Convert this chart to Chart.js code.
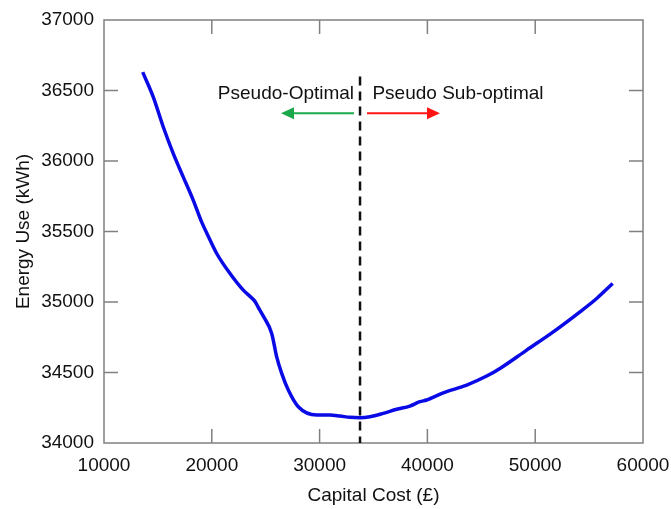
<!DOCTYPE html>
<html>
<head>
<meta charset="utf-8">
<script src="https://cdn.jsdelivr.net/npm/chart.js@4"></script>
<style>
html,body{margin:0;padding:0;background:#fff;}
#wrap{width:671px;height:509px;position:relative;}
</style>
</head>
<body>
<div id="wrap"><canvas id="c" width="671" height="509"></canvas></div>
<script>
const capitalCost = [13590, 14573, 15500, 16428, 17356, 18283, 19063, 19527, 20454, 21688, 22922, 23543, 23950, 24313, 24777, 25556, 26020, 26484, 27096, 28024, 29731, 30965, 31893, 32820, 33747, 34675, 35908, 37151, 38369, 39312, 39934, 41474, 43645, 45500, 46734, 49210, 51678, 54154, 55703, 57187];
const energyUse   = [36630, 36453, 36241, 36052, 35886, 35721, 35566, 35490, 35344, 35202, 35084, 35040, 35010, 34962, 34900, 34777, 34611, 34494, 34376, 34257, 34198, 34198, 34191, 34182, 34179, 34186, 34210, 34239, 34262, 34293, 34305, 34356, 34411, 34475, 34529, 34659, 34788, 34930, 35025, 35131];
const xTicks = [10000, 20000, 30000, 40000, 50000, 60000];
const yTicks = [34000, 34500, 35000, 35500, 36000, 36500, 37000];
const dividerCost = 33750;
const dividerTop = 36600;
const arrowLevel = 36338;
const leftArrow = [33190, 26420];
const rightArrow = [34400, 41170];
const labelLevel = 36480;
const labelLeft = {text: 'Pseudo-Optimal', x: 33200};
const labelRight = {text: 'Pseudo Sub-optimal', x: 34900};

const FONT = '"Liberation Sans", Arial, sans-serif';
const TXT = '#111111';
const FRAME = '#808080';

const overlay = {
  id: 'overlay',
  afterDatasetsDraw(chart) {
    const ctx = chart.ctx, xs = chart.scales.x, ys = chart.scales.y, a = chart.chartArea;
    ctx.save();
    ctx.strokeStyle = FRAME; ctx.lineWidth = 1.5;
    ctx.strokeRect(a.left, a.top, a.right - a.left, a.bottom - a.top);
    const tl = 14;
    ctx.beginPath();
    xTicks.forEach(v => {
      const p = xs.getPixelForValue(v);
      if (p > a.left + 1 && p < a.right - 1) {
        ctx.moveTo(p, a.bottom); ctx.lineTo(p, a.bottom - tl);
        ctx.moveTo(p, a.top); ctx.lineTo(p, a.top + tl);
      }
    });
    yTicks.forEach(v => {
      const p = ys.getPixelForValue(v);
      if (p > a.top + 1 && p < a.bottom - 1) {
        ctx.moveTo(a.left, p); ctx.lineTo(a.left + tl, p);
        ctx.moveTo(a.right, p); ctx.lineTo(a.right - tl, p);
      }
    });
    ctx.stroke();
    const dx = xs.getPixelForValue(dividerCost);
    ctx.strokeStyle = '#111'; ctx.lineWidth = 2.5; ctx.setLineDash([9, 6]);
    ctx.beginPath(); ctx.moveTo(dx, ys.getPixelForValue(dividerTop)); ctx.lineTo(dx, a.bottom); ctx.stroke();
    ctx.setLineDash([]);
    function arrow(x0, x1, color) {
      const y = ys.getPixelForValue(arrowLevel);
      const p0 = xs.getPixelForValue(x0), p1 = xs.getPixelForValue(x1);
      const dir = Math.sign(p1 - p0), hl = 13, hw = 6;
      ctx.strokeStyle = color; ctx.fillStyle = color; ctx.lineWidth = 2;
      ctx.beginPath(); ctx.moveTo(p0, y); ctx.lineTo(p1 - dir * hl, y); ctx.stroke();
      ctx.beginPath(); ctx.moveTo(p1, y); ctx.lineTo(p1 - dir * hl, y - hw); ctx.lineTo(p1 - dir * hl, y + hw); ctx.closePath(); ctx.fill();
    }
    arrow(leftArrow[0], leftArrow[1], '#1aa84a');
    arrow(rightArrow[0], rightArrow[1], '#ff1414');
    ctx.fillStyle = TXT; ctx.font = '19px ' + FONT; ctx.textBaseline = 'middle';
    const ly = ys.getPixelForValue(labelLevel);
    ctx.textAlign = 'right'; ctx.fillText(labelLeft.text, xs.getPixelForValue(labelLeft.x), ly);
    ctx.textAlign = 'left'; ctx.fillText(labelRight.text, xs.getPixelForValue(labelRight.x), ly);
    ctx.restore();
  }
};

new Chart(document.getElementById('c'), {
  type: 'scatter',
  data: {
    datasets: [{
      data: capitalCost.map((x, i) => ({x: x, y: energyUse[i]})),
      showLine: true,
      borderColor: '#0a0ae6',
      borderWidth: 3.5,
      pointRadius: 0,
      cubicInterpolationMode: 'monotone',
      fill: false
    }]
  },
  options: {
    responsive: false,
    animation: false,
    events: [],
    layout: {padding: {left: 0, right: 28, top: 20, bottom: 0}},
    plugins: {legend: {display: false}, tooltip: {enabled: false}},
    scales: {
      x: {
        type: 'linear', min: 10000, max: 60000,
        afterBuildTicks: s => { s.ticks = xTicks.map(v => ({value: v})); },
        afterFit: s => { s.height = 66; s.paddingLeft = 0; s.paddingRight = 0; },
        grid: {display: true, drawOnChartArea: false, drawTicks: false, color: 'rgba(0,0,0,0)'},
        border: {display: false},
        ticks: {padding: 11, color: TXT, font: {family: FONT, size: 19}, maxRotation: 0, autoSkip: false, callback: v => String(v)},
        title: {display: true, text: 'Capital Cost (£)', color: TXT, font: {family: FONT, size: 19}, padding: {top: 0, bottom: 2}}
      },
      y: {
        type: 'linear', min: 34000, max: 37000,
        afterBuildTicks: s => { s.ticks = yTicks.map(v => ({value: v})); },
        afterFit: s => { s.width = 104; s.paddingTop = 0; s.paddingBottom = 0; },
        grid: {display: true, drawOnChartArea: false, drawTicks: false, color: 'rgba(0,0,0,0)'},
        border: {display: false},
        ticks: {padding: 10, color: TXT, font: {family: FONT, size: 19}, autoSkip: false, callback: v => String(v)},
        title: {display: true, text: 'Energy Use (kWh)', color: TXT, font: {family: FONT, size: 19}, padding: {top: 12, bottom: 0}}
      }
    }
  },
  plugins: [overlay]
});
</script>
</body>
</html>
